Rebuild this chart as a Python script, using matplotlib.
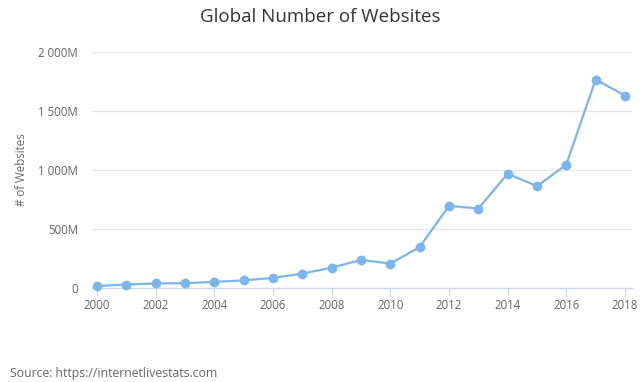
import matplotlib
matplotlib.use("Agg")
import matplotlib.pyplot as plt
from matplotlib.ticker import FuncFormatter

plt.rcParams['font.family'] = ['Open Sans', 'DejaVu Sans']

years = list(range(2000, 2019))
websites = [17087182, 29254370, 38760373, 40912332, 51611646, 64780617,
            85507314, 121892559, 172338726, 238027855, 206956723, 346004403,
            697089489, 672985183, 968882453, 863105652, 1045534808,
            1766926408, 1630322579]
y_ticks = [0, 500e6, 1000e6, 1500e6, 2000e6]
x_ticks = list(range(2000, 2019, 2))


def fmt_m(v, pos):
    if v == 0:
        return "0"
    m = int(round(v / 1e6))
    return "{:,}M".format(m).replace(",", " ")


fig = plt.figure(figsize=(6.43, 3.82), dpi=100)
ax = fig.add_axes([92 / 643, 1 - 288 / 382, 540 / 643, 236 / 382])

ax.plot(years, websites, color="#7cb5ec", lw=1.6, marker="o", ms=6, zorder=3, clip_on=False)

ax.set_xlim(1999.83, 2018.24)
ax.set_ylim(0, 2000e6)
ax.set_yticks(y_ticks)
ax.set_xticks(x_ticks)
ax.yaxis.set_major_formatter(FuncFormatter(fmt_m))

ax.grid(axis="y", color="#e6e6e6", lw=1)
ax.set_axisbelow(True)
for s in ["top", "right", "left"]:
    ax.spines[s].set_visible(False)
ax.spines["bottom"].set_color("#ccd6eb")
ax.tick_params(axis="y", length=0, pad=10, labelsize=8.3, labelcolor="#666666")
ax.tick_params(axis="x", length=6, color="#ccd6eb", pad=2, labelsize=8.3, labelcolor="#666666")

ax.set_ylabel("# of Websites", fontsize=8.3, color="#666666")
ax.yaxis.set_label_coords(-(92 - 28) / 540, 0.5)
fig.text(320 / 643, 1 - 17 / 382, "Global Number of Websites", ha="center", va="center",
         fontsize=13.5, color="#333333")
fig.text(10 / 643, 1 - 374 / 382, "Source: https://internetlivestats.com", ha="left", va="center",
         fontsize=8.8, color="#666666")

fig.savefig("out.png", dpi=100)
